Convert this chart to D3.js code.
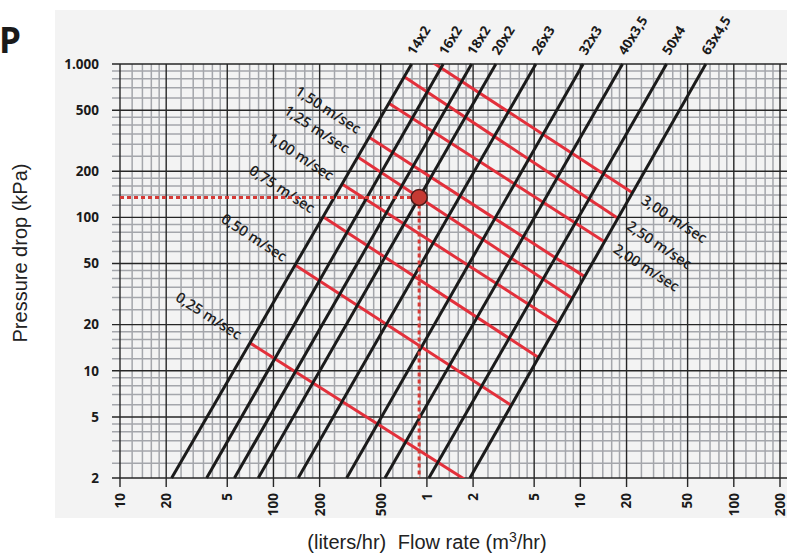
<!DOCTYPE html>
<html>
<head>
<meta charset="utf-8">
<script src="https://cdn.jsdelivr.net/npm/d3@7"></script>
<style>
  html, body { margin: 0; padding: 0; background: #fff; }
  svg { display: block; }
</style>
</head>
<body>
<svg width="787" height="558"></svg>
<script>
// pipe sizes (outer diameter x wall) and the flow (liters/hr) where each pipe line crosses 2 kPa and 1000 kPa
const pipeSizes = ["14x2", "16x2", "18x2", "20x2", "26x3", "32x3", "40x3,5", "50x4", "63x4,5"];
const flowAt2kPa = [21.7, 36.7, 55.7, 79.6, 145, 300, 533, 1030, 1906];
const flowAt1000kPa = [795, 1277, 1956, 2815, 5131, 10430, 18830, 36450, 65700];

// velocity lines: pressure where they meet the smallest pipe and the largest pipe
const velocities = ["0,25", "0,50", "0,75", "1,00", "1,25", "1,50", "2,00", "2,50", "3,00"];
const pressureOnSmallest = [15.2, 48.9, 101, 165, 247.6, 333, 554, 826, 1181];
const pressureOnLargest = [1.9, 5.95, 12.2, 20.4, 29.7, 41.1, 69.4, 98.6, 144.9];

// worked example point
const exampleFlow = 890;
const examplePressure = 135;

const flowTicks = [10, 20, 50, 100, 200, 500, 1000, 2000, 5000, 10000, 20000, 50000, 100000, 200000];
const flowTickLabels = ["10", "20", "5", "100", "200", "500", "1", "2", "5", "10", "20", "50", "100", "200"];
const pressureTicks = [2, 5, 10, 20, 50, 100, 200, 500, 1000];
const pressureTickLabels = ["2", "5", "10", "20", "50", "100", "200", "500", "1.000"];

const majorMantissa = [1, 2, 5];
const minorMantissa = [1.2, 1.4, 1.6, 1.8, 2.5, 3, 3.5, 4, 4.5, 6, 7, 8, 9];

const svg = d3.select("svg");
const plotLeft = 120, plotRight = 780, plotTop = 64, plotBottom = 478;

const x = d3.scaleLog().domain([10, 200000]).range([plotLeft, plotRight]);
const y = d3.scaleLog().domain([2, 1000]).range([plotBottom, plotTop]);

// background panel
svg.append("rect").attr("x", 55).attr("y", 10).attr("width", 732).attr("height", 508).attr("fill", "#f3f3f3");

function gridValues(mants, lo, hi) {
  const out = [];
  for (let d = 1; d <= 1e6; d *= 10) {
    mants.forEach(m => {
      const v = +(m * d).toPrecision(6);
      if (v >= lo && v <= hi) out.push(v);
    });
  }
  return out;
}

const grid = svg.append("g");
// minor grid
grid.selectAll(".vminor").data(gridValues(minorMantissa, 10, 200000)).enter().append("line")
  .attr("x1", d => x(d)).attr("x2", d => x(d)).attr("y1", plotTop).attr("y2", plotBottom)
  .attr("stroke", "#a4a6ab").attr("stroke-width", 1.5);
grid.selectAll(".hminor").data(gridValues(minorMantissa, 2, 1000)).enter().append("line")
  .attr("x1", 112).attr("x2", 787).attr("y1", d => y(d)).attr("y2", d => y(d))
  .attr("stroke", "#a4a6ab").attr("stroke-width", 1.5);
// major grid
grid.selectAll(".vmajor").data(gridValues(majorMantissa, 10, 200000)).enter().append("line")
  .attr("x1", d => x(d)).attr("x2", d => x(d)).attr("y1", plotTop).attr("y2", plotBottom + 9)
  .attr("stroke", "#262626").attr("stroke-width", 1.4);
grid.selectAll(".hmajor").data(gridValues(majorMantissa, 2, 1000)).enter().append("line")
  .attr("x1", 112).attr("x2", 787).attr("y1", d => y(d)).attr("y2", d => y(d))
  .attr("stroke", "#262626").attr("stroke-width", 1.4);

// tick labels
svg.selectAll(".ylab").data(pressureTicks).enter().append("text")
  .attr("x", 99).attr("y", d => y(d)).attr("dy", "0.36em")
  .attr("text-anchor", "end")
  .style("font", "bold 13.5px 'Open Sans', sans-serif").attr("fill", "#1a1a1a")
  .text((d, i) => pressureTickLabels[i]);

svg.selectAll(".xlab").data(flowTicks).enter().append("text")
  .attr("transform", d => `translate(${x(d)},493) rotate(-90)`)
  .attr("dy", "0.36em").attr("text-anchor", "end")
  .style("font", "bold 13.5px 'Open Sans', sans-serif").attr("fill", "#1a1a1a")
  .text((d, i) => flowTickLabels[i]);

// pipe lines helper
function flowOnPipe(i, p) {
  const a = Math.log10(flowAt2kPa[i]), b = Math.log10(flowAt1000kPa[i]);
  const t = (Math.log10(p) - Math.log10(2)) / (Math.log10(1000) - Math.log10(2));
  return Math.pow(10, a + t * (b - a));
}

svg.append("clipPath").attr("id", "plot")
  .append("rect").attr("x", plotLeft).attr("y", plotTop).attr("width", plotRight - plotLeft).attr("height", plotBottom - plotTop);

// velocity lines
const last = pipeSizes.length - 1;
const vel = velocities.map((v, i) => {
  const p0 = pressureOnSmallest[i], p1 = pressureOnLargest[i];
  return { label: v, x0: x(flowOnPipe(0, p0)), y0: y(p0), x1: x(flowOnPipe(last, p1)), y1: y(p1), i };
});

svg.append("g").attr("clip-path", "url(#plot)")
  .selectAll("line").data(vel).enter().append("line")
  .attr("x1", d => d.x0).attr("y1", d => d.y0).attr("x2", d => d.x1).attr("y2", d => d.y1)
  .attr("stroke", "#e3303b").attr("stroke-width", 3);

svg.selectAll(".vlab").data(vel).enter().append("text")
  .attr("transform", d => {
    const dx = d.x1 - d.x0, dy = d.y1 - d.y0, len = Math.hypot(dx, dy);
    const ux = dx / len, uy = dy / len;
    const ang = Math.atan2(dy, dx) * 180 / Math.PI;
    const px = d.i < 6 ? d.x0 - 12 * ux : d.x1 + 12 * ux;
    const py = d.i < 6 ? d.y0 - 12 * uy : d.y1 + 12 * uy;
    return `translate(${px},${py}) rotate(${ang})`;
  })
  .attr("dy", "0.3em")
  .attr("text-anchor", d => d.i < 6 ? "end" : "start")
  .style("font", "600 14.5px 'Open Sans', sans-serif").attr("fill", "#1f1f1f")
  .text(d => d.label + " m/sec");

// pipe lines
const pipes = pipeSizes.map((s, i) => ({ name: s, xa: x(flowAt2kPa[i]), xb: x(flowAt1000kPa[i]) }));
svg.append("g").selectAll("line").data(pipes).enter().append("line")
  .attr("x1", d => d.xa).attr("y1", y(2)).attr("x2", d => d.xb).attr("y2", y(1000))
  .attr("stroke", "#1b1b1b").attr("stroke-width", 3);

svg.selectAll(".plab").data(pipes).enter().append("text")
  .attr("transform", d => `translate(${d.xb + 3},56) rotate(-58)`)
  .style("font", "bold 13.5px 'Open Sans', sans-serif").attr("fill", "#1a1a1a")
  .text(d => d.name);

// example reading
const ex = x(exampleFlow), ey = y(examplePressure);
svg.append("line").attr("x1", plotLeft).attr("x2", ex).attr("y1", ey).attr("y2", ey)
  .attr("stroke", "#d63a36").attr("stroke-width", 3).attr("stroke-dasharray", "4,3");
svg.append("line").attr("x1", ex).attr("x2", ex).attr("y1", ey).attr("y2", plotBottom)
  .attr("stroke", "#d63a36").attr("stroke-width", 3).attr("stroke-dasharray", "4,3");
svg.append("circle").attr("cx", ex).attr("cy", ey).attr("r", 8)
  .attr("fill", "#c53a33").attr("stroke", "#4a1a18").attr("stroke-width", 1.5);

// titles
svg.append("text").attr("x", -1).attr("y", 53)
  .style("font", "bold 35px 'Open Sans', sans-serif").attr("fill", "#1a1a1a").text("P");

svg.append("text").attr("transform", "translate(27,253) rotate(-90)")
  .attr("text-anchor", "middle")
  .style("font", "20px 'Liberation Sans', Arial, sans-serif").attr("fill", "#222")
  .text("Pressure drop (kPa)");

const xt = svg.append("text").attr("x", 427).attr("y", 549).attr("text-anchor", "middle")
  .style("font", "20px 'Liberation Sans', Arial, sans-serif").attr("fill", "#222");
xt.append("tspan").text("(liters/hr)");
xt.append("tspan").attr("dx", 6).text(" Flow rate (m");
xt.append("tspan").attr("dy", -7).style("font-size", "14px").text("3");
xt.append("tspan").attr("dy", 7).text("/hr)");
</script>
</body>
</html>
